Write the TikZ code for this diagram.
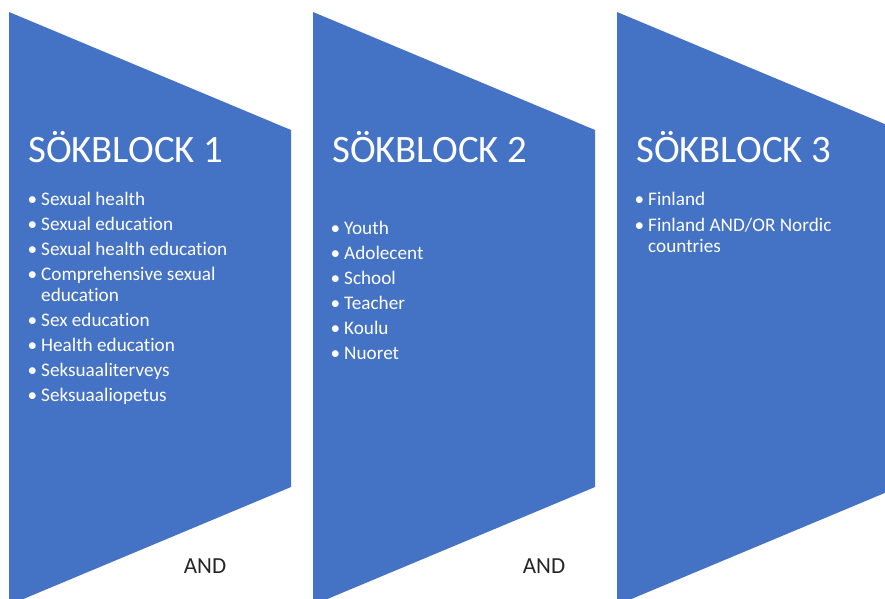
\documentclass[tikz,border=0pt]{standalone}
\usepackage{fontspec}
\setmainfont{Carlito}[Ligatures=CommonOff]
\usetikzlibrary{positioning}
\definecolor{blockblue}{HTML}{4472C4}
\newcommand{\bul}{\llap{\textbullet\hspace{4pt}}}
\tikzset{
	block/.style={fill=blockblue},
	blocktitle/.style={anchor=base west, inner sep=0, text=white, font=\fontsize{38.8}{44}\selectfont},
	blt/.style={anchor=base west, inner sep=0, text=white, align=left, font=\fontsize{19.2}{21}\selectfont},
	andlabel/.style={anchor=base, inner sep=0, text=black!85, font=\fontsize{23}{28}\selectfont}
}

\begin{document}
\begin{tikzpicture}[x=1pt, y=-1pt]
	\clip (0, 0) rectangle (885, 598);
	\fill [block] (9, 12) -- (291, 130) -- (291, 487) -- (9, 605) -- cycle;
	\fill [block] (313, 12) -- (595, 130) -- (595, 487) -- (313, 605) -- cycle;
	\fill [block] (617, 12) -- (899, 130) -- (899, 487) -- (617, 605) -- cycle;
	\node [blocktitle] (0) at (28, 162) {SÖKBLOCK 1};
	\node [blocktitle] (1) at (332, 162) {SÖKBLOCK 2};
	\node [blocktitle] (2) at (636, 162) {SÖKBLOCK 3};
	\node [blt] (3) at (41, 205) {\bul Sexual health};
	\node [blt] (4) at (41, 230) {\bul Sexual education};
	\node [blt] (5) at (41, 255) {\bul Sexual health education};
	\node [blt] (6) at (41, 301) {\bul Comprehensive sexual\\education};
	\node [blt] (7) at (41, 326) {\bul Sex education};
	\node [blt] (8) at (41, 351) {\bul Health education};
	\node [blt] (9) at (41, 376) {\bul Seksuaaliterveys};
	\node [blt] (10) at (41, 401) {\bul Seksuaaliopetus};
	\node [blt] (11) at (344, 234) {\bul Youth};
	\node [blt] (12) at (344, 259) {\bul Adolecent};
	\node [blt] (13) at (344, 284) {\bul School};
	\node [blt] (14) at (344, 309) {\bul Teacher};
	\node [blt] (15) at (344, 334) {\bul Koulu};
	\node [blt] (16) at (344, 359) {\bul Nuoret};
	\node [blt] (17) at (648, 205) {\bul Finland};
	\node [blt] (18) at (648, 252) {\bul Finland AND/OR Nordic\\countries};
	\node [andlabel] (19) at (205, 573) {AND};
	\node [andlabel] (20) at (544, 573) {AND};
\end{tikzpicture}
\end{document}
